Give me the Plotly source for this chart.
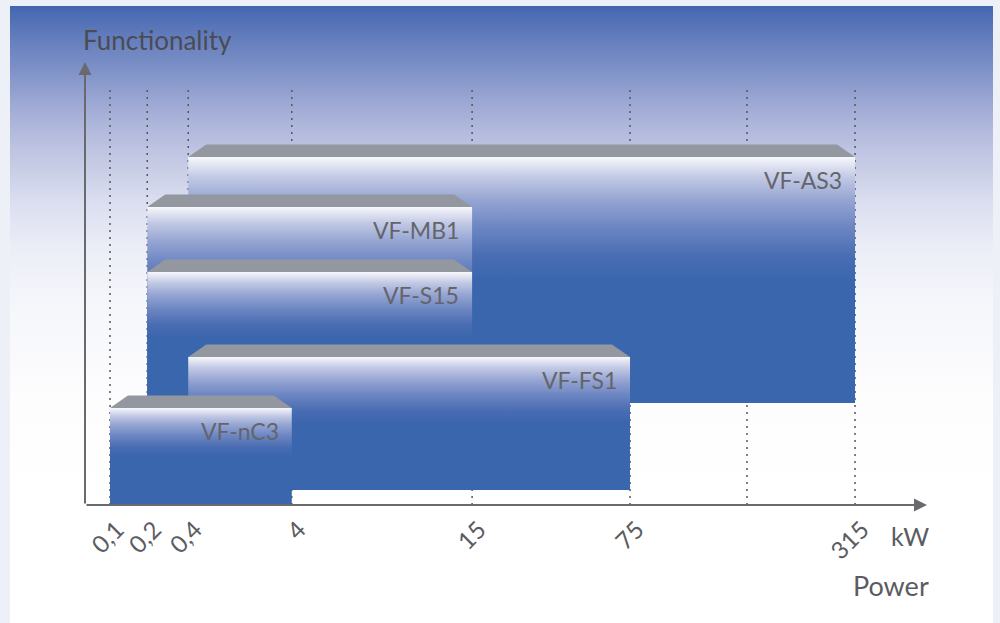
import base64
import plotly.graph_objects as go

# ---------------- data ----------------
tick_labels = ["0,1", "0,2", "0,4", "4", "15", "75", "", "315"]
tick_kw = [0.1, 0.2, 0.4, 4, 15, 75, 160, 315]
# schematic (non-linear) position of each tick on the power axis
tick_pos = [0, 5.0, 10.5, 24.4, 48.6, 69.8, 85.5, 100]

products = ["VF-AS3", "VF-MB1", "VF-S15", "VF-FS1", "VF-nC3"]
kw_min = [0.4, 0.2, 0.2, 0.4, 0.1]
kw_max = [315, 15, 15, 75, 4]
func_low = [10.2, 10.2, 10.2, 1.5, 0.0]
func_high = [34.8, 29.8, 23.3, 14.8, 9.7]

# ---------------- layout geometry ----------------
W, H = 1000, 623
X_RANGE = [-3.356, 109.66]
Y_RANGE = [0, 44.5]
X_DOM = [0.085, 0.927]
Y_DOM = [1 - 505 / H, 1 - 60 / H]
px_per_x = (X_DOM[1] - X_DOM[0]) * W / (X_RANGE[1] - X_RANGE[0])
px_per_y = (Y_DOM[1] - Y_DOM[0]) * H / (Y_RANGE[1] - Y_RANGE[0])

pos_of = dict(zip(tick_kw, tick_pos))

BLUE = "#3a66ae"
GREY_TOP = "#93979f"
TXT = "#5b5c62"

face_scale = [
    [0.0, BLUE], [0.5, BLUE], [0.6, "#4a6db3"], [0.72, "#6e87c3"],
    [0.83, "#97a6d3"], [0.92, "#c3cae5"], [0.97, "#e3e6f3"], [1.0, "#f7f8fc"],
]

fig = go.Figure()

# dotted guide lines
gx, gy = [], []
for p in tick_pos:
    gx += [p, p, None]
    gy += [0, 41.8, None]
fig.add_trace(go.Scatter(x=gx, y=gy, mode="lines",
                         line=dict(color="#55565c", width=1.5, dash="2px,5px"),
                         hoverinfo="skip", showlegend=False))

annotations = []
dx = 18 / px_per_x
dy = 12.5 / px_per_y
for name, a, b, lo, hi in zip(products, kw_min, kw_max, func_low, func_high):
    x0, x1 = pos_of[a], pos_of[b]
    fig.add_trace(go.Scatter(
        x=[x0, x1, x1, x0, x0], y=[lo, lo, hi, hi, lo], mode="lines",
        fill="toself", line=dict(width=0, color="rgba(0,0,0,0)"),
        fillgradient=dict(type="vertical", colorscale=face_scale, start=lo, stop=hi),
        hoverinfo="skip", showlegend=False))
    fig.add_trace(go.Scatter(
        x=[x0, x1, x1 - dx, x0 + dx, x0], y=[hi, hi, hi + dy, hi + dy, hi], mode="lines",
        fill="toself", fillcolor=GREY_TOP, line=dict(width=0, color="rgba(0,0,0,0)"),
        hoverinfo="skip", showlegend=False))
    annotations.append(dict(
        x=x1 - 11 / px_per_x, y=hi - 23 / px_per_y, xref="x", yref="y",
        text=name, showarrow=False, xanchor="right", yanchor="middle",
        font=dict(family="Lato", size=23, color="#64656b")))

# axis arrows
annotations.append(dict(x=X_RANGE[1], y=0, ax=X_RANGE[0], ay=0, xref="x", yref="y",
                        axref="x", ayref="y", text="", showarrow=True, arrowhead=2,
                        arrowsize=1.3, arrowwidth=2, arrowcolor="#6a6a6e"))
annotations.append(dict(x=X_RANGE[0], y=Y_RANGE[1] - 0.2, ax=X_RANGE[0], ay=0, xref="x", yref="y",
                        axref="x", ayref="y", text="", showarrow=True, arrowhead=2,
                        arrowsize=1.3, arrowwidth=2, arrowcolor="#6a6a6e"))

annotations += [
    dict(x=81 / W, y=1 - 40 / H, xref="paper", yref="paper", text="Functionality",
         showarrow=False, xanchor="left", yanchor="middle",
         font=dict(family="Lato", size=26, color="#4b4c53")),
    dict(x=931 / W, y=1 - 536 / H, xref="paper", yref="paper", text="kW",
         showarrow=False, xanchor="right", yanchor="middle",
         font=dict(family="Lato", size=25, color=TXT)),
    dict(x=931 / W, y=1 - 585 / H, xref="paper", yref="paper", text="Power",
         showarrow=False, xanchor="right", yanchor="middle",
         font=dict(family="Lato", size=27, color=TXT)),
]

# background panel gradient (image)
stops = [(0, "#4366b0"), (0.044, "#5f7abb"), (0.099, "#7c90c6"), (0.152, "#9aa6d3"),
         (0.206, "#b4bbdd"), (0.261, "#c8cde6"), (0.314, "#d9ddef"), (0.395, "#eceef7"),
         (0.476, "#f5f6fb"), (0.639, "#fdfdfe"), (0.8, "#ffffff"), (1, "#ffffff")]
stop_xml = "".join(f'<stop offset="{o}" stop-color="{c}"/>' for o, c in stops)
svg = ('<svg xmlns="http://www.w3.org/2000/svg" width="983" height="617" viewBox="0 0 983 617" '
       'preserveAspectRatio="none"><defs><linearGradient id="g" x1="0" y1="0" x2="0" y2="1">'
       f'{stop_xml}</linearGradient></defs><rect width="983" height="617" fill="url(#g)"/></svg>')
src = "data:image/svg+xml;base64," + base64.b64encode(svg.encode()).decode()

fig.update_layout(
    template="none",
    width=W, height=H, margin=dict(l=0, r=0, t=0, b=0),
    paper_bgcolor="#eef0f7", plot_bgcolor="rgba(0,0,0,0)",
    showlegend=False,
    images=[dict(source=src, xref="paper", yref="paper", x=10 / W, y=1 - 6 / H,
                 sizex=983 / W, sizey=617 / H, xanchor="left", yanchor="top",
                 sizing="stretch", layer="below")],
    xaxis=dict(domain=X_DOM, range=X_RANGE, showgrid=False, zeroline=False, showline=False,
               tickmode="array", tickvals=tick_pos, ticktext=tick_labels, tickangle=-45,
               ticks="", ticklabelstandoff=5, ticklabelshift=7,
               tickfont=dict(family="Lato", size=24, color=TXT), automargin=False,
               fixedrange=True),
    yaxis=dict(domain=Y_DOM, range=Y_RANGE, visible=False, fixedrange=True),
    annotations=annotations,
)

fig.write_html("out.html", config={"displayModeBar": False})
